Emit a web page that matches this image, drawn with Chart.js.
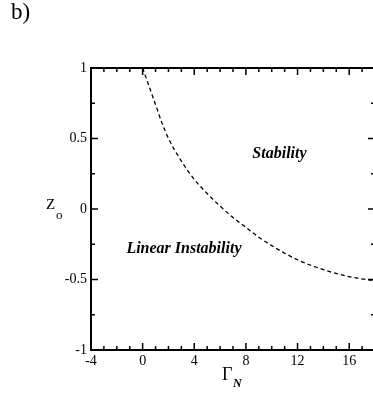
<!DOCTYPE html>
<html>
<head>
<meta charset="utf-8">
<script src="https://cdn.jsdelivr.net/npm/chart.js@4.4.1/dist/chart.umd.min.js"></script>
<style>
  html, body { margin: 0; padding: 0; background: #fff; overflow: hidden; }
  #wrap { position: relative; width: 373px; height: 396px; overflow: hidden; }
  canvas { position: absolute; left: 0; top: 0; }
  .lbl { position: absolute; font-family: "Liberation Serif", "DejaVu Serif", serif; color: #000; white-space: nowrap; line-height: 1; }
  .note { font-weight: bold; font-style: italic; font-size: 16px; transform: translate(-50%, -50%); }
</style>
</head>
<body>
<div id="wrap">
  <canvas id="chart" width="380" height="396"></canvas>
  <div class="lbl" style="left:11px; top:0px; font-size:23px;">b)</div>
  <div class="lbl" style="left:46px; top:197px; font-size:15px;">Z</div>
  <div class="lbl" style="left:56px; top:208px; font-size:13px;">o</div>
  <div class="lbl" style="left:222px; top:365px; font-size:18px;">&Gamma;</div>
  <div class="lbl" style="left:233px; top:377px; font-size:12px; font-weight:bold; font-style:italic;">N</div>
  <div class="lbl note" id="note0"></div>
  <div class="lbl note" id="note1"></div>
</div>
<script>
// Boundary curve z_o(Gamma_N)
const gammaValues = [0, 0.5, 1, 1.5, 2, 3, 4, 5, 6, 7, 8, 9, 10, 12, 14, 16, 18];
const zValues = [1.0, 0.87, 0.74, 0.61, 0.5, 0.34, 0.21, 0.11, 0.02, -0.06, -0.13, -0.2, -0.26, -0.36, -0.43, -0.48, -0.51];

// Axis ticks
const xMajorTicks = [-4, 0, 4, 8, 12, 16];
const xMinorTicks = [-3, -2, -1, 1, 2, 3, 5, 6, 7, 9, 10, 11, 13, 14, 15, 17];
const yMajorTicks = [-1, -0.5, 0, 0.5, 1];
const yMinorTicks = [-0.75, -0.25, 0.25, 0.75];

// Region labels
const noteTexts = ['Stability', 'Linear Instability'];
const noteX = [10.6, 3.2];
const noteY = [0.4, -0.28];

const tickFont = { family: '"Liberation Serif", "DejaVu Serif", serif', size: 14 };

// Frame + inward ticks on all four sides
const frameTicks = {
    id: 'frameTicks',
    afterDraw(chart) {
        const ctx = chart.ctx;
        const a = chart.chartArea;
        const xs = chart.scales.x, ys = chart.scales.y;
        ctx.save();
        ctx.strokeStyle = '#000';
        ctx.lineWidth = 1.5;
        ctx.beginPath();
        const tick = (vals, len) => {
            vals.forEach(v => {
                const px = xs.getPixelForValue(v);
                ctx.moveTo(px, a.bottom); ctx.lineTo(px, a.bottom - len);
                ctx.moveTo(px, a.top); ctx.lineTo(px, a.top + len);
            });
        };
        const ytick = (vals, len) => {
            vals.forEach(v => {
                const py = ys.getPixelForValue(v);
                ctx.moveTo(a.left, py); ctx.lineTo(a.left + len, py);
                ctx.moveTo(a.right, py); ctx.lineTo(a.right - len, py);
            });
        };
        tick(xMajorTicks, 7);
        tick(xMinorTicks, 4);
        ytick(yMajorTicks, 7);
        ytick(yMinorTicks, 4);
        ctx.stroke();
        ctx.lineWidth = 2;
        ctx.strokeRect(a.left, a.top, a.right - a.left, a.bottom - a.top);
        ctx.restore();

        noteTexts.forEach((t, i) => {
            const el = document.getElementById('note' + i);
            el.textContent = t;
            el.style.left = xs.getPixelForValue(noteX[i]) + 'px';
            el.style.top = ys.getPixelForValue(noteY[i]) + 'px';
        });
    }
};

const chart = new Chart(document.getElementById('chart'), {
    type: 'scatter',
    data: {
        datasets: [{
            data: gammaValues.map((g, i) => ({ x: g, y: zValues[i] })),
            showLine: true,
            borderColor: '#000',
            borderWidth: 1.3,
            borderDash: [4, 3],
            cubicInterpolationMode: 'monotone',
            pointRadius: 0,
            fill: false
        }]
    },
    options: {
        responsive: false,
        animation: false,
        devicePixelRatio: 1,
        layout: { padding: { left: 0, top: 68, right: 5, bottom: 0 } },
        plugins: { legend: { display: false }, tooltip: { enabled: false } },
        scales: {
            x: {
                type: 'linear',
                min: -4,
                max: 18,
                grid: { display: false, drawTicks: false },
                border: { display: false },
                ticks: { stepSize: 4, includeBounds: false, autoSkip: false, maxRotation: 0, padding: 3, color: '#000', font: tickFont },
                afterFit(scale) { scale.height = 46; }
            },
            y: {
                type: 'linear',
                min: -1,
                max: 1,
                grid: { display: false, drawTicks: false },
                border: { display: false },
                ticks: {
                    stepSize: 0.5, autoSkip: false, padding: 4, color: '#000', font: tickFont,
                    callback: v => String(v)
                },
                afterFit(scale) { scale.width = 91; }
            }
        }
    },
    plugins: [frameTicks]
});
</script>
</body>
</html>
